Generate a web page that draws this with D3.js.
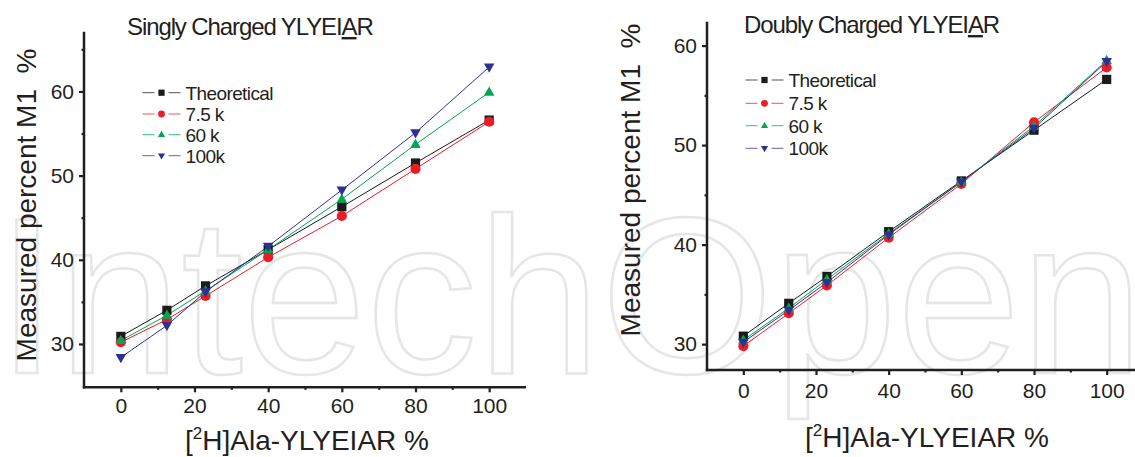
<!DOCTYPE html>
<html>
<head>
<meta charset="utf-8">
<script src="https://d3js.org/d3.v7.min.js"></script>
<style>
  body { margin: 0; background: #fff; }
  svg text { font-family: "Liberation Sans", Arial, Helvetica, sans-serif; fill: #231f20; }
  .axis path, .axis line { stroke: #231f20; }
  .axis text { font-size: 21px; }
  .wm { font-family: "Liberation Sans", Arial, sans-serif; font-size: 222px; fill: none; stroke: #e6e6e6; stroke-width: 2.5px; }
</style>
</head>
<body>
<svg id="chart"></svg>
<script>
// x positions of the labelled peptide mixtures (% [2H]Ala)
var xVals = [0, 12.5, 23, 40, 60, 80, 100];

// singly charged ion, measured percent M1
var singlyTheo = [30.9, 34.0, 36.9, 41.2, 46.3, 51.5, 56.6];
var singly75   = [30.2, 32.9, 35.7, 40.3, 45.2, 50.8, 56.4];
var singly60   = [30.4, 33.4, 36.3, 41.2, 47.2, 53.7, 59.9];
var singly100  = [28.4, 32.2, 36.2, 41.6, 48.3, 55.1, 62.9];

// doubly charged ion
var doublyTheo = [30.8, 34.1, 36.8, 41.3, 46.4, 51.5, 56.6];
var doubly75   = [29.8, 33.1, 35.9, 40.7, 46.1, 52.3, 57.8];
var doubly60   = [30.4, 33.6, 36.5, 41.1, 46.3, 51.9, 58.5];
var doubly100  = [30.2, 33.4, 36.2, 41.0, 46.3, 51.7, 58.4];

var seriesNames  = ["Theoretical", "7.5 k", "60 k", "100k"];
var seriesColors = ["#1a1a1a", "#ed1c24", "#00a651", "#2e3192"];
var seriesShapes = ["square", "circle", "up", "down"];

var xMajor = [0, 20, 40, 60, 80, 100];
var xMinor = [10, 30, 50, 70, 90];
var yMajor = [30, 40, 50, 60];

var W = 1135, H = 457;
var svg = d3.select("#chart").attr("width", W).attr("height", H);

// faint publisher watermark behind the plots
svg.append("text").attr("class", "wm").attr("x", -4).attr("y", 373).text("IntechOpen");

function marker(g, shape, cx, cy, r, color) {
    if (shape == "square") {
        g.append("rect").attr("x", cx - r).attr("y", cy - r).attr("width", 2*r).attr("height", 2*r).attr("fill", color);
    } else if (shape == "circle") {
        g.append("circle").attr("cx", cx).attr("cy", cy).attr("r", r * 1.1).attr("fill", color);
    } else {
        var s = shape == "up" ? -1 : 1;
        var pts = [[cx - r*1.15, cy - s*r*0.75], [cx + r*1.15, cy - s*r*0.75], [cx, cy + s*r*1.25]];
        g.append("path").attr("d", d3.line()(pts) + "Z").attr("fill", color);
    }
}

function drawPanel(p) {
    var x = d3.scaleLinear().domain([-10, 110]).range(p.xr);
    var y = d3.scaleLinear().domain(p.yd).range(p.yr);
    var g = svg.append("g");

    // axes
    var yMinor = p.yMinor;
    g.append("g").attr("class", "axis").attr("transform", "translate(" + p.xr[0] + ",0)")
        .call(d3.axisLeft(y).tickValues(yMajor).tickSize(5).tickPadding(5).tickSizeOuter(0))
        .call(function(a) { a.select(".domain").remove(); a.selectAll("line").attr("stroke-width", 2.2); });
    g.append("g").attr("class", "axis").attr("transform", "translate(" + p.xr[0] + ",0)")
        .call(d3.axisLeft(y).tickValues(yMinor).tickSize(2.5).tickFormat("").tickSizeOuter(0))
        .call(function(a) { a.select(".domain").remove(); a.selectAll("line").attr("stroke-width", 2.2); });
    g.append("g").attr("class", "axis").attr("transform", "translate(0," + p.yr[0] + ")")
        .call(d3.axisBottom(x).tickValues(xMajor).tickSize(5).tickPadding(p.xPad).tickSizeOuter(0))
        .call(function(a) { a.select(".domain").remove(); a.selectAll("line").attr("stroke-width", 2.2); });
    g.append("g").attr("class", "axis").attr("transform", "translate(0," + p.yr[0] + ")")
        .call(d3.axisBottom(x).tickValues(xMinor).tickSize(2.5).tickFormat("").tickSizeOuter(0))
        .call(function(a) { a.select(".domain").remove(); a.selectAll("line").attr("stroke-width", 2.2); });
    g.append("line").attr("x1", p.xr[0]).attr("x2", p.xr[0]).attr("y1", p.yr[1]).attr("y2", p.yr[0] + 1.2)
        .attr("stroke", "#231f20").attr("stroke-width", 2.5);
    g.append("line").attr("x1", p.xr[0] - 1.2).attr("x2", p.xr[1]).attr("y1", p.yr[0]).attr("y2", p.yr[0])
        .attr("stroke", "#231f20").attr("stroke-width", 2.5);

    // series
    var line = d3.line().x(function(d, i) { return x(xVals[i]); }).y(function(d) { return y(d); });
    p.series.forEach(function(vals, k) {
        g.append("path").attr("d", line(vals)).attr("fill", "none")
            .attr("stroke", seriesColors[k]).attr("stroke-width", 1);
    });
    p.series.forEach(function(vals, k) {
        var mg = g.append("g");
        vals.forEach(function(v, i) { marker(mg, seriesShapes[k], x(xVals[i]), y(v), 4.6, seriesColors[k]); });
    });

    // legend
    seriesNames.forEach(function(name, k) {
        var ly = p.legY[k], lx = p.legX;
        g.append("line").attr("x1", lx).attr("x2", lx + 12).attr("y1", ly).attr("y2", ly)
            .attr("stroke", seriesColors[k]).attr("stroke-width", 1).attr("opacity", 0.75);
        g.append("line").attr("x1", lx + 26).attr("x2", lx + 38).attr("y1", ly).attr("y2", ly)
            .attr("stroke", seriesColors[k]).attr("stroke-width", 1).attr("opacity", 0.75);
        marker(g, seriesShapes[k], lx + 19, ly, 3.1, seriesColors[k]);
        g.append("text").attr("x", lx + 43).attr("y", ly + 7).attr("font-size", 19)
            .attr("letter-spacing", -0.6).text(name);
    });

    // title with underlined A
    var t = g.append("text").attr("x", p.titleX).attr("y", p.titleY).attr("font-size", 24).attr("letter-spacing", -1.1);
    t.append("tspan").text(p.title + " YLYEI");
    t.append("tspan").attr("text-decoration", "underline").style("text-decoration", "underline").text("A");
    t.append("tspan").text("R");

    // axis titles
    g.append("text").attr("transform", "translate(" + p.yLabX + "," + p.yLabY + ") rotate(-90)")
        .attr("text-anchor", "middle").attr("font-size", 28).style("white-space", "pre")
        .text("Measured percent M1  %");
    var xl = g.append("text").attr("x", p.xLabX).attr("y", p.xLabY).attr("text-anchor", "middle").attr("font-size", 28);
    xl.append("tspan").text("[");
    xl.append("tspan").attr("font-size", 17).attr("dy", -11).text("2");
    xl.append("tspan").attr("dy", 11).text("H]Ala-YLYEIAR %");
}

drawPanel({
    xr: [84, 526], yd: [24.85, 67.1], yr: [387.3, 31.7], yMinor: [35, 45, 55, 65], xPad: 6,
    series: [singlyTheo, singly75, singly60, singly100],
    legX: 142.5, legY: [92.7, 114, 134.7, 155.7],
    title: "Singly Charged", titleX: 127, titleY: 35,
    yLabX: 36, yLabY: 205, xLabX: 307, xLabY: 450
});
drawPanel({
    xr: [707, 1143], yd: [27.4, 62.4], yr: [370, 21.7], yMinor: [35, 45, 55], xPad: 8,
    series: [doublyTheo, doubly75, doubly60, doubly100],
    legX: 745.5, legY: [80, 103.3, 125.7, 148.3],
    title: "Doubly Charged", titleX: 744, titleY: 33,
    yLabX: 640, yLabY: 180, xLabX: 927, xLabY: 447
});
</script>
</body>
</html>
